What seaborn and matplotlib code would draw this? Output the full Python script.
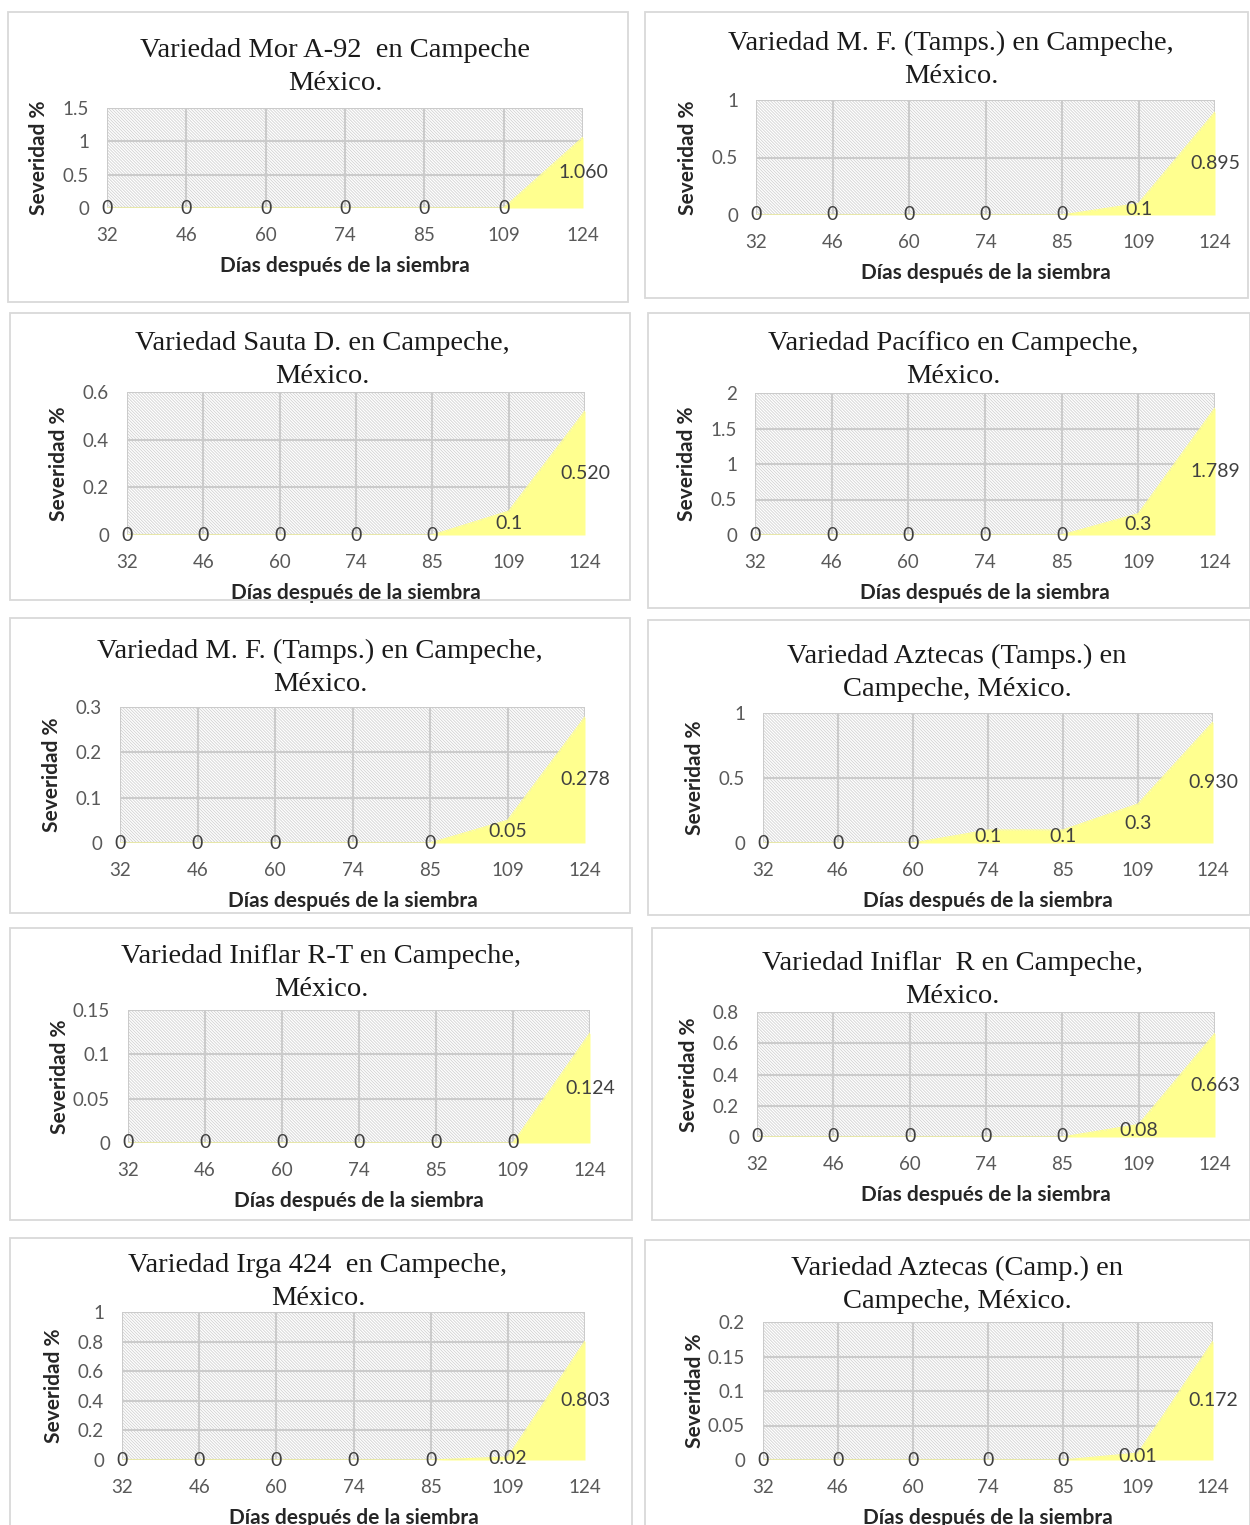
import numpy as np
import pandas as pd
import matplotlib.pyplot as plt
import seaborn as sns
from matplotlib.patches import Rectangle

# Data
dias = ['32', '46', '60', '74', '85', '109', '124']
titulos = [
    'Variedad Mor A-92  en Campeche\nMéxico.',
    'Variedad M. F. (Tamps.) en Campeche,\nMéxico.',
    'Variedad Sauta D. en Campeche,\nMéxico.',
    'Variedad Pacífico en Campeche,\nMéxico.',
    'Variedad M. F. (Tamps.) en Campeche,\nMéxico.',
    'Variedad Aztecas (Tamps.) en\nCampeche, México.',
    'Variedad Iniflar R-T en Campeche,\nMéxico.',
    'Variedad Iniflar  R en Campeche,\nMéxico.',
    'Variedad Irga 424  en Campeche,\nMéxico.',
    'Variedad Aztecas (Camp.) en\nCampeche, México.',
]
severidad = [
    [0, 0, 0, 0, 0, 0, 1.060],
    [0, 0, 0, 0, 0, 0.1, 0.895],
    [0, 0, 0, 0, 0, 0.1, 0.520],
    [0, 0, 0, 0, 0, 0.3, 1.789],
    [0, 0, 0, 0, 0, 0.05, 0.278],
    [0, 0, 0, 0.1, 0.1, 0.3, 0.930],
    [0, 0, 0, 0, 0, 0, 0.124],
    [0, 0, 0, 0, 0, 0.08, 0.663],
    [0, 0, 0, 0, 0, 0.02, 0.803],
    [0, 0, 0, 0, 0, 0.01, 0.172],
]
y_max = [1.5, 1, 0.6, 2, 0.3, 1, 0.15, 0.8, 1, 0.2]
y_paso = [0.5, 0.5, 0.2, 0.5, 0.1, 0.5, 0.05, 0.2, 0.2, 0.05]

# Layout in pixels (x0, y0, x1, y1)
plot_box = [
    (107, 108, 583, 208), (756, 100, 1215, 215),
    (127, 392, 585, 535), (755, 393, 1215, 535),
    (120, 707, 585, 843), (763, 713, 1213, 843),
    (128, 1010, 590, 1143), (757, 1012, 1215, 1137),
    (122, 1312, 585, 1460), (763, 1322, 1213, 1460),
]
borde = [
    (8, 12, 628, 302), (645, 12, 1248, 298),
    (10, 313, 630, 600), (648, 313, 1250, 608),
    (10, 618, 630, 913), (648, 620, 1250, 915),
    (10, 928, 632, 1220), (652, 928, 1250, 1220),
    (10, 1238, 632, 1530), (645, 1240, 1250, 1530),
]
titulo_pos = [
    (335, 67), (951, 60), (322, 360), (953, 360), (320, 668),
    (957, 673), (321, 973), (952, 980), (318, 1282), (957, 1285),
]

W, H = 1250, 1525
amarillo = '#ffff8f'
gris = '#d9d9d9'

sns.set_theme(style='white')
plt.rcParams['font.family'] = ['Lato', 'DejaVu Sans']
plt.rcParams['hatch.linewidth'] = 0.6

fig = plt.figure(figsize=(12.5, 15.25), dpi=100)

for i in range(10):
    bx0, by0, bx1, by1 = borde[i]
    fig.add_artist(Rectangle((bx0 / W, 1 - by1 / H), (bx1 - bx0) / W, (by1 - by0) / H,
                             transform=fig.transFigure, fill=False, ec=gris, lw=1.3))

    x0, y0, x1, y1 = plot_box[i]
    ax = fig.add_axes([x0 / W, 1 - y1 / H, (x1 - x0) / W, (y1 - y0) / H])

    df = pd.DataFrame({'pos': np.arange(len(dias)), 'sev': severidad[i]})
    ax.add_patch(Rectangle((0, 0), 1, 1, transform=ax.transAxes, facecolor='white',
                           edgecolor='#d2d2d2', hatch='\\' * 11, lw=0, zorder=0))
    sns.lineplot(data=df, x='pos', y='sev', ax=ax, color=amarillo, lw=0.8, zorder=2)
    ax.fill_between(df['pos'], df['sev'], color=amarillo, lw=0, zorder=2)

    for j, v in enumerate(df['sev']):
        txt = f'{v:.3f}' if j == len(dias) - 1 else f'{v:g}'
        ax.text(j, v / 2, txt, ha='center', va='center', fontsize=14,
                color='#404040', zorder=3, clip_on=False)

    ax.set_xlim(0, len(dias) - 1)
    ax.set_ylim(0, y_max[i])
    ax.set_xticks(df['pos'])
    ax.set_xticklabels(dias)
    yt = np.arange(0, y_max[i] + y_paso[i] / 2, y_paso[i])
    ax.set_yticks(yt)
    ax.set_yticklabels([f'{t:g}' for t in np.round(yt, 3)])
    ax.tick_params(length=0, labelsize=13.5, labelcolor='#595959')
    ax.tick_params(axis='x', pad=14)
    ax.tick_params(axis='y', pad=13)
    ax.set_axisbelow(True)
    ax.grid(True, color='#cbcbcb', lw=1.5)
    for s in ax.spines.values():
        s.set_visible(False)

    w_px, h_px = x1 - x0, y1 - y0
    ax.set_xlabel('Días después de la siembra', fontsize=15, fontweight='bold',
                  color='#262626', va='center')
    ax.set_ylabel('Severidad %', fontsize=15, fontweight='bold',
                  color='#262626', va='center')
    ax.xaxis.set_label_coords(0.5, -58 / h_px)
    ax.yaxis.set_label_coords(-68 / w_px, 0.5)

    tx, ty = titulo_pos[i]
    fig.text(tx / W, 1 - ty / H, titulos[i], ha='center', va='center',
             family='Liberation Serif', fontsize=20.5, color='#1a1a1a', linespacing=1.4)

fig.savefig('out.png', dpi=100)
